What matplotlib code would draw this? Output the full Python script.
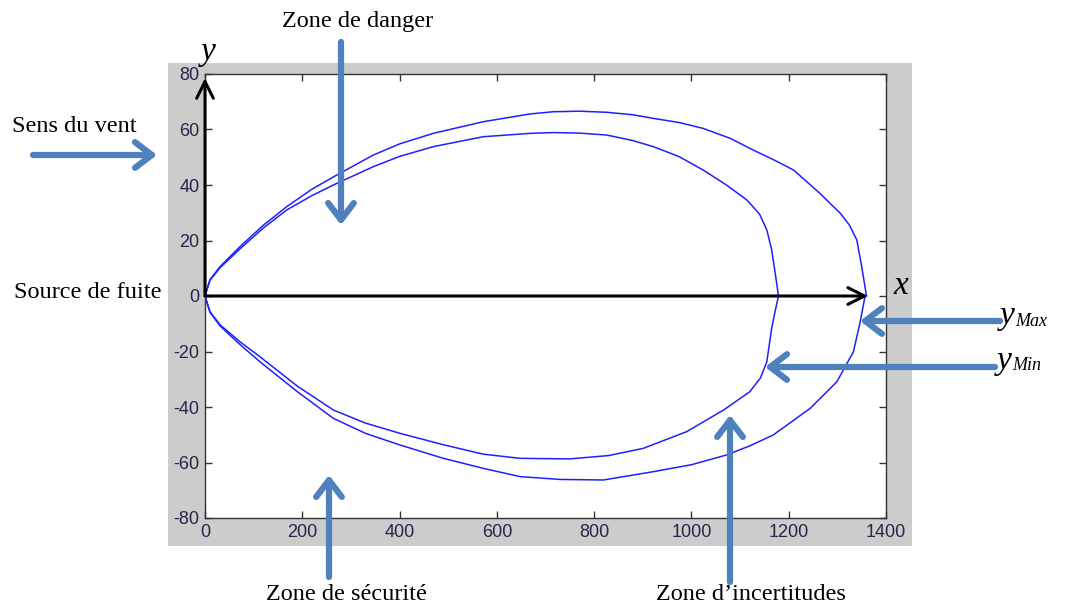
import matplotlib
matplotlib.use("Agg")
import matplotlib.pyplot as plt
from matplotlib.patches import FancyArrowPatch

plt.rcParams["axes.unicode_minus"] = False
plt.rcParams["font.family"] = ["Liberation Sans", "DejaVu Sans"]

# contour yMax (exterieur) - moitie haute puis moitie basse
ymax_x_haut = [0, 10, 31, 72, 120, 168, 220, 271, 346, 400, 469, 572, 668, 716, 770, 826, 880, 922, 975, 1024, 1080, 1127, 1170, 1210, 1264, 1306, 1325, 1340, 1350, 1360]
ymax_y_haut = [0, 5.8, 10.6, 17.8, 25.5, 32.2, 38.5, 43.6, 50.8, 54.8, 58.6, 62.8, 65.6, 66.4, 66.6, 66.2, 65.3, 64.0, 62.5, 60.4, 56.8, 52.6, 49.0, 45.4, 37.0, 29.8, 25.5, 20.2, 10.6, 0]
ymax_x_bas = [0, 10, 31, 72, 113, 190, 264, 330, 401, 490, 572, 648, 730, 819, 922, 1000, 1072, 1120, 1168, 1244, 1299, 1333, 1347, 1357]
ymax_y_bas = [0, -5.8, -10.8, -17.5, -23.7, -34.5, -44.1, -49.5, -53.7, -58.5, -62.1, -65.1, -66.1, -66.3, -63.3, -60.8, -57.3, -54.0, -50.1, -40.5, -30.9, -20.1, -9.3, 0]

# contour yMin (interieur)
ymin_x_haut = [0, 10, 31, 72, 120, 168, 220, 271, 346, 400, 469, 572, 668, 716, 770, 826, 880, 922, 975, 1024, 1072, 1114, 1140, 1155, 1165, 1172, 1179]
ymin_y_haut = [0, 5.6, 10.2, 17.0, 24.5, 31.0, 36.2, 40.6, 46.6, 50.3, 53.8, 57.4, 58.6, 58.9, 58.7, 58.0, 56.0, 53.8, 50.2, 45.4, 40.0, 34.6, 29.5, 23.8, 16.6, 8.5, 0]
ymin_x_bas = [0, 10, 31, 72, 113, 190, 264, 330, 401, 490, 572, 648, 750, 830, 901, 990, 1066, 1120, 1142, 1155, 1165, 1172, 1179]
ymin_y_bas = [0, -5.6, -10.4, -16.5, -21.9, -32.5, -41.1, -45.8, -49.5, -53.6, -57.0, -58.5, -58.7, -57.5, -54.9, -48.9, -41.1, -34.5, -29.5, -23.7, -11.6, -5.5, 0]

xticks = [0, 200, 400, 600, 800, 1000, 1200, 1400]
yticks = [-80, -60, -40, -20, 0, 20, 40, 60, 80]

W, H = 1067, 605
fig = plt.figure(figsize=(W / 100, H / 100), dpi=100)
fig.patch.set_facecolor("white")

# fond gris facon matlab
fond = fig.add_axes([168 / W, 1 - 546 / H, (912 - 168) / W, (546 - 63) / H], zorder=0)
fond.set_facecolor("#cccccc")
fond.set_xticks([])
fond.set_yticks([])
for s in fond.spines.values():
    s.set_visible(False)

ax = fig.add_axes([205 / W, 1 - 518 / H, (886 - 205) / W, (518 - 74) / H], zorder=1)
ax.set_facecolor("white")

bleu = "#2020ff"
ax.plot(ymax_x_haut, ymax_y_haut, color=bleu, lw=1.1)
ax.plot(ymax_x_bas, ymax_y_bas, color=bleu, lw=1.1)
ax.plot(ymin_x_haut, ymin_y_haut, color=bleu, lw=1.1)
ax.plot(ymin_x_bas, ymin_y_bas, color=bleu, lw=1.1)

ax.set_xlim(0, 1400)
ax.set_ylim(-80, 80)
ax.set_xticks(xticks)
ax.set_yticks(yticks)
ax.tick_params(direction="in", length=5, width=1, top=True, right=True,
               labelsize=13, labelcolor="#26264a", color="#333333", pad=4)
for s in ax.spines.values():
    s.set_color("#333333")
    s.set_linewidth(1)

# axes x et y (fleches noires)
ax.annotate("", xy=(1363, 0), xytext=(0, 0),
            arrowprops=dict(arrowstyle="->,head_length=0.6,head_width=0.3", lw=2.2,
                            color="black", shrinkA=0, shrinkB=0, mutation_scale=20),
            annotation_clip=False)
ax.annotate("", xy=(0, 78.5), xytext=(0, 0),
            arrowprops=dict(arrowstyle="->,head_length=0.6,head_width=0.3", lw=2.2,
                            color="black", shrinkA=0, shrinkB=0, mutation_scale=20),
            annotation_clip=False)


def px(x, y):
    return (x / W, 1 - y / H)


acier = "#4f81bd"


def fleche(x0, y0, x1, y1):
    fig.add_artist(FancyArrowPatch(
        px(x0, y0), px(x1, y1), transform=fig.transFigure,
        arrowstyle="->,head_length=0.55,head_width=0.42", lw=4.5, color=acier,
        mutation_scale=22, shrinkA=0, shrinkB=0, zorder=5))


fleche(341, 42, 341, 225)
fleche(33, 155, 157, 155)
fleche(329, 577, 329, 475)
fleche(730, 582, 730, 415)
fleche(1000, 321, 860, 321)
fleche(995, 367, 765, 367)

serif = "Liberation Serif"
fs = 17.5
fig.text(*px(358, 22), "Zone de danger", family=serif, fontsize=fs, ha="center", va="center")
fig.text(*px(12, 127), "Sens du vent", family=serif, fontsize=fs, ha="left", va="center")
fig.text(*px(14, 292), "Source de fuite", family=serif, fontsize=fs, ha="left", va="center")
fig.text(*px(346, 594), "Zone de sécurité", family=serif, fontsize=fs, ha="center", va="center")
fig.text(*px(751, 594), "Zone d\u2019incertitudes", family=serif, fontsize=fs, ha="center", va="center")

fig.text(*px(208, 52), "y", family=serif, style="italic", fontsize=24, ha="center", va="center")
fig.text(*px(901, 286), "x", family=serif, style="italic", fontsize=24, ha="center", va="center")
fig.text(*px(1000, 316), "y", family=serif, style="italic", fontsize=24, ha="left", va="center")
fig.text(*px(1015, 321), "Max", family=serif, style="italic", fontsize=13, ha="left", va="center")
fig.text(*px(997, 361), "y", family=serif, style="italic", fontsize=24, ha="left", va="center")
fig.text(*px(1012, 366), "Min", family=serif, style="italic", fontsize=13, ha="left", va="center")

fig.savefig("out.png", dpi=100)
